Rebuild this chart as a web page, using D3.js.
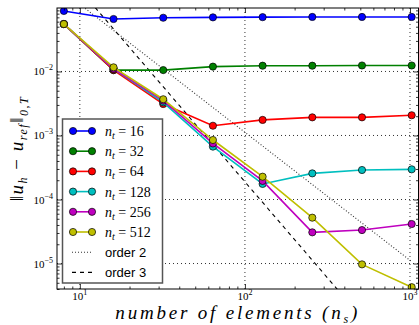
<!DOCTYPE html>
<html>
<head>
<meta charset="utf-8">
<script src="https://cdn.jsdelivr.net/npm/d3@7"></script>
<style>
  body { margin: 0; background: #fff; }
  svg { display: block; }
</style>
</head>
<body>
<div id="chart"></div>
<script>
// number of spatial elements (x axis)
const elements = [8, 16, 32, 64, 128, 256, 512, 1024];

// error per number of time steps n_t
const timeSteps = [16, 32, 64, 128, 256, 512];
const err16  = [0.088, 0.066, 0.069, 0.070, 0.0705, 0.071, 0.071, 0.071];
const err32  = [0.055, 0.0105, 0.0105, 0.0119, 0.0123, 0.0123, 0.0124, 0.0124];
const err64  = [0.055, 0.0105, 0.0031, 0.00142, 0.00175, 0.00192, 0.00192, 0.00207];
const err128 = [0.055, 0.011, 0.0033, 0.00067, 0.000175, 0.000256, 0.000289, 0.000296];
const err256 = [0.055, 0.011, 0.0035, 0.00075, 0.000195, 0.0000307, 0.0000333, 0.0000414];
const err512 = [0.055, 0.0116, 0.00368, 0.00085, 0.000227, 0.000052, 0.0000097, 0.00000427];
const seriesColors = ['#0000ff', '#008000', '#ff0000', '#00bfbf', '#bf00bf', '#bfbf00'];

// reference slopes, given by their end points
const order2 = [[8, 0.175], [1024, 0.0000107]];
const order3 = [[8, 0.369], [1024, 0.000000176]];

const xTicks = [10, 100, 1000];
const yTicks = [1e-5, 1e-4, 1e-3, 1e-2];

const cfg = {
  width: 419, height: 325,
  margin: { left: 57, right: 0.5, top: 8, bottom: 36 }
};

const errs = [err16, err32, err64, err128, err256, err512];
const data = timeSteps.map((nt, i) => ({
  nt: nt,
  color: seriesColors[i],
  points: elements.map((n, j) => ({ n: n, e: errs[i][j] }))
}));

const svg = d3.select('#chart')
  .append('svg')
  .attr('width', cfg.width)
  .attr('height', cfg.height);

const xScale = d3.scaleLog([7.27, 1126], [cfg.margin.left, cfg.width - cfg.margin.right]);
const yScale = d3.scaleLog([4e-6, 0.098], [cfg.height - cfg.margin.bottom, cfg.margin.top]);

const x0 = xScale.range()[0], x1 = xScale.range()[1];
const y0 = yScale.range()[0], y1 = yScale.range()[1];

svg.append('clipPath').attr('id', 'plotClip')
  .append('rect')
  .attr('x', x0).attr('y', y1)
  .attr('width', x1 - x0).attr('height', y0 - y1);

// gridlines
const grid = svg.append('g').attr('class', 'gridlines');
grid.selectAll('line.gx')
  .data(xTicks)
  .join('line')
  .attr('class', 'gx')
  .attr('x1', d => xScale(d)).attr('x2', d => xScale(d))
  .attr('y1', y1).attr('y2', y0)
  .style('stroke', '#333').style('stroke-width', 1).style('stroke-dasharray', '1,3');
grid.selectAll('line.gy')
  .data(yTicks)
  .join('line')
  .attr('class', 'gy')
  .attr('x1', x0).attr('x2', x1)
  .attr('y1', d => yScale(d)).attr('y2', d => yScale(d))
  .style('stroke', '#333').style('stroke-width', 1).style('stroke-dasharray', '1,3');

// minor tick values
const xMinor = [];
[1, 10, 100, 1000].forEach(dec => { for (let k = 2; k <= 9; k++) xMinor.push(dec * k); });
const xMinorIn = xMinor.filter(v => v >= 7.27 && v <= 1126 && !xTicks.includes(v));
const yMinor = [];
[1e-6, 1e-5, 1e-4, 1e-3, 1e-2].forEach(dec => { for (let k = 2; k <= 9; k++) yMinor.push(dec * k); });
const yMinorIn = yMinor.filter(v => v >= 4e-6 && v <= 0.098);

const plot = svg.append('g').attr('clip-path', 'url(#plotClip)');

const line = d3.line()
  .x(d => xScale(d[0]))
  .y(d => yScale(d[1]));

// reference order lines
plot.append('path')
  .attr('d', line(order2))
  .style('fill', 'none').style('stroke', '#333').style('stroke-width', 1.1)
  .style('stroke-dasharray', '1,2');
plot.append('path')
  .attr('d', line(order3))
  .style('fill', 'none').style('stroke', '#000').style('stroke-width', 1.1)
  .style('stroke-dasharray', '4,4');

const seriesLine = d3.line()
  .x(d => xScale(d.n))
  .y(d => yScale(d.e));

const series = plot.selectAll('g.series')
  .data(data)
  .join('g')
  .attr('class', 'series');

series.append('path')
  .attr('d', d => seriesLine(d.points))
  .style('fill', 'none')
  .style('stroke', d => d.color)
  .style('stroke-width', 1.6);

series.selectAll('circle')
  .data(d => d.points.map(p => ({ ...p, color: d.color })))
  .join('circle')
  .attr('cx', d => xScale(d.n))
  .attr('cy', d => yScale(d.e))
  .attr('r', 3.6)
  .style('fill', d => d.color)
  .style('stroke', '#000')
  .style('stroke-width', 0.7);

// axes, ticks pointing inward on all four sides
function tickAxis(axis, values, size, transform) {
  svg.append('g')
    .attr('transform', transform)
    .call(axis.tickValues(values).tickSize(size).tickFormat(''))
    .call(g => g.select('.domain').remove())
    .call(g => g.selectAll('line').style('stroke', '#000').style('stroke-width', 0.8));
}
tickAxis(d3.axisBottom(xScale), xTicks, -5, `translate(0,${y0})`);
tickAxis(d3.axisBottom(xScale), xMinorIn, -2.5, `translate(0,${y0})`);
tickAxis(d3.axisTop(xScale), xTicks, -5, `translate(0,${y1})`);
tickAxis(d3.axisTop(xScale), xMinorIn, -2.5, `translate(0,${y1})`);
tickAxis(d3.axisLeft(yScale), yTicks, -5, `translate(${x0},0)`);
tickAxis(d3.axisLeft(yScale), yMinorIn, -2.5, `translate(${x0},0)`);
tickAxis(d3.axisRight(yScale), yTicks, -5, `translate(${x1},0)`);
tickAxis(d3.axisRight(yScale), yMinorIn, -2.5, `translate(${x1},0)`);

svg.append('rect')
  .attr('x', x0).attr('y', y1)
  .attr('width', x1 - x0).attr('height', y0 - y1)
  .style('fill', 'none').style('stroke', '#000').style('stroke-width', 1);

// tick labels with superscripts
const serif = '"Liberation Serif", "DejaVu Serif", serif';
const xLab = svg.append('g').attr('class', 'xLabels');
xTicks.forEach(v => {
  const t = xLab.append('text')
    .attr('x', xScale(v)).attr('y', y0 + 11)
    .attr('text-anchor', 'middle')
    .style('font-family', serif).style('font-size', '11px');
  t.append('tspan').text('10');
  t.append('tspan').attr('dy', -5).style('font-size', '8px').text(Math.round(Math.log10(v)));
});
const yLab = svg.append('g').attr('class', 'yLabels');
yTicks.forEach(v => {
  const t = yLab.append('text')
    .attr('x', x0 - 4).attr('y', yScale(v) + 4)
    .attr('text-anchor', 'end')
    .style('font-family', serif).style('font-size', '11px');
  t.append('tspan').text('10');
  t.append('tspan').attr('dy', -5).style('font-size', '8px').text('\u2212' + Math.round(-Math.log10(v)));
});

// axis titles
const xt = svg.append('text')
  .attr('x', (x0 + x1) / 2).attr('y', 319)
  .attr('text-anchor', 'middle')
  .style('font-family', serif).style('font-style', 'italic').style('font-size', '19px')
  .style('letter-spacing', '2.8px');
xt.append('tspan').text('number of elements (n');
xt.append('tspan').attr('dy', 4).style('font-size', '12px').text('s');
xt.append('tspan').attr('dy', -4).text(')');

const yt = svg.append('text')
  .attr('transform', `translate(23,${(y0 + y1) / 2}) rotate(-90)`)
  .attr('text-anchor', 'middle')
  .style('font-family', serif).style('font-size', '19px')
  .style('letter-spacing', '1.5px');
yt.append('tspan').text('\u2016');
yt.append('tspan').style('font-style', 'italic').text('u');
yt.append('tspan').attr('dy', 4).style('font-style', 'italic').style('font-size', '12px').text('h');
yt.append('tspan').attr('dy', -4).text(' \u2212 ');
yt.append('tspan').style('font-style', 'italic').text('u');
yt.append('tspan').attr('dy', 4).style('font-style', 'italic').style('font-size', '12px').text('ref');
yt.append('tspan').attr('dy', -4).text('\u2016');
yt.append('tspan').attr('dy', 5).style('font-style', 'italic').style('font-size', '12px').text('0,T');

// legend
const legend = svg.append('g').attr('class', 'legend');
legend.append('rect')
  .attr('x', 62.5).attr('y', 119)
  .attr('width', 100).attr('height', 164)
  .style('fill', '#fff').style('stroke', '#555').style('stroke-width', 1.5);

const rowY = i => 131 + i * 20.2;
const items = legend.selectAll('g.item')
  .data(data)
  .join('g')
  .attr('class', 'item')
  .attr('transform', (d, i) => `translate(0,${rowY(i)})`);
items.append('line')
  .attr('x1', 73).attr('x2', 92)
  .style('stroke', d => d.color).style('stroke-width', 1.6);
items.selectAll('circle')
  .data(d => [73, 92].map(cx => ({ cx: cx, color: d.color })))
  .join('circle')
  .attr('cx', d => d.cx).attr('r', 3.6)
  .style('fill', d => d.color).style('stroke', '#000').style('stroke-width', 0.7);
const lt = items.append('text')
  .attr('x', 105).attr('y', 5)
  .style('font-family', serif).style('font-size', '14px');
lt.append('tspan').style('font-style', 'italic').text('n');
lt.append('tspan').attr('dy', 3).style('font-style', 'italic').style('font-size', '10px').text('t');
lt.append('tspan').attr('dy', -3).text(d => ' = ' + d.nt);

const refItems = [
  { label: 'order 2', dash: '1,2', color: '#333' },
  { label: 'order 3', dash: '4,4', color: '#000' }
];
const ri = legend.selectAll('g.ref')
  .data(refItems)
  .join('g')
  .attr('class', 'ref')
  .attr('transform', (d, i) => `translate(0,${rowY(6 + i)})`);
ri.append('line')
  .attr('x1', 72).attr('x2', 93)
  .style('stroke', d => d.color).style('stroke-width', 1.1)
  .style('stroke-dasharray', d => d.dash);
ri.append('text')
  .attr('x', 105).attr('y', 5)
  .style('font-family', '"Liberation Sans", Arial, sans-serif').style('font-size', '13px')
  .text(d => d.label);
</script>
</body>
</html>
